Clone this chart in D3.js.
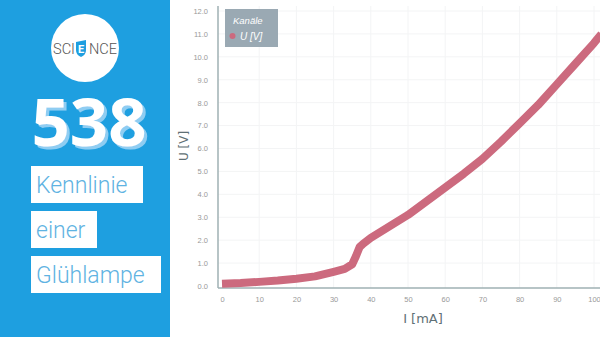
<!DOCTYPE html>
<html>
<head>
<meta charset="utf-8">
<script src="https://cdn.jsdelivr.net/npm/d3@7"></script>
<style>
  body { margin: 0; background: #fff; }
  svg { display: block; }
</style>
</head>
<body>
<div id="chart"></div>
<script>
// data
const CURRENT = [0, 5, 10, 15, 20, 25, 30, 33, 35, 36, 37, 38, 40, 45, 50, 55, 60, 65, 70, 75, 80, 85, 90, 95, 100, 102];
const VOLTAGE = [0.10, 0.13, 0.18, 0.24, 0.32, 0.42, 0.62, 0.75, 0.95, 1.3, 1.7, 1.85, 2.1, 2.6, 3.1, 3.7, 4.3, 4.9, 5.55, 6.3, 7.1, 7.9, 8.8, 9.7, 10.6, 11.0];
const X_TICKS = [0, 10, 20, 30, 40, 50, 60, 70, 80, 90, 100];
const Y_TICKS = [0, 1, 2, 3, 4, 5, 6, 7, 8, 9, 10, 11, 12];
const TITLE_LINES = ["Kennlinie", "einer", "Glühlampe"];

const WIDTH = 600, HEIGHT = 337;
const CURVE_COLOR = "#cc6a7e";
const BLUE = "#1e9fe0";

const svg = d3.select("#chart").append("svg")
  .attr("width", WIDTH)
  .attr("height", HEIGHT);

const defs = svg.append("defs");
defs.append("filter").attr("id", "numShadow")
  .attr("x", "-10%").attr("y", "-10%").attr("width", "130%").attr("height", "130%")
  .append("feDropShadow")
  .attr("dx", 3).attr("dy", 3).attr("stdDeviation", 0.6)
  .attr("flood-color", "#8fcdf2").attr("flood-opacity", 1);

// ---- left banner ----
svg.append("rect").attr("x", 0).attr("y", 0)
  .attr("width", 170).attr("height", HEIGHT)
  .attr("fill", BLUE);

// logo
svg.append("circle").attr("cx", 85).attr("cy", 48).attr("r", 34).attr("fill", "#fff");
const logo = svg.append("g").attr("font-family", "Roboto").attr("font-weight", 300)
  .attr("font-size", 15).attr("fill", "#555");
logo.append("text").attr("x", 53).attr("y", 54).text("SCI")
  .attr("textLength", 22).attr("lengthAdjust", "spacingAndGlyphs");
logo.append("path")
  .attr("d", "M76,42 L86,40 L86,50 Q86,55 81,57 Q76,55 76,50 Z")
  .attr("fill", BLUE);
logo.append("text").attr("x", 81).attr("y", 53).attr("text-anchor", "middle")
  .attr("font-size", 11).attr("font-weight", 700).attr("fill", "#fff").text("E");
logo.append("text").attr("x", 89).attr("y", 54).text("NCE")
  .attr("textLength", 28).attr("lengthAdjust", "spacingAndGlyphs");

// big number with shadow
svg.append("text").attr("x", 89).attr("y", 146).attr("text-anchor", "middle")
  .attr("font-family", "Open Sans").attr("font-weight", 700).attr("font-size", 67)
  .attr("fill", "#fff").attr("filter", "url(#numShadow)").text("538");

// title boxes
const boxWidths = [112, 66, 130];
TITLE_LINES.forEach(function(t, i) {
  const y0 = 166 + i * 45;
  svg.append("rect").attr("x", 31).attr("y", y0)
    .attr("width", boxWidths[i]).attr("height", 37).attr("fill", "#fff");
  svg.append("text").attr("x", 36).attr("y", y0 + 27)
    .attr("font-family", "Roboto").attr("font-weight", 300).attr("font-size", 23)
    .attr("fill", "#5fb3e2").text(t);
});

// ---- chart ----
const x = d3.scaleLinear().domain([0, 100]).range([222, 594]);
const y = d3.scaleLinear().domain([0, 12]).range([286, 11]);

const plot = svg.append("g");

// faint grid
plot.selectAll(".vgrid").data(X_TICKS.slice(1)).join("line")
  .attr("x1", d => x(d)).attr("x2", d => x(d))
  .attr("y1", 6).attr("y2", 288)
  .attr("stroke", "#f3f4f5").attr("stroke-width", 1);
plot.selectAll(".hgrid").data(Y_TICKS.slice(1)).join("line")
  .attr("x1", 218).attr("x2", WIDTH)
  .attr("y1", d => y(d)).attr("y2", d => y(d))
  .attr("stroke", "#f3f4f5").attr("stroke-width", 1);

// axes
const xAxis = d3.axisBottom(x).tickValues(X_TICKS).tickSize(0).tickPadding(9);
const gx = svg.append("g").attr("transform", "translate(0,288)").call(xAxis);
gx.select(".domain").remove();
gx.selectAll("text").attr("font-family", "Liberation Sans").attr("font-size", 7.5).attr("fill", "#999");

const yAxis = d3.axisLeft(y).tickValues(Y_TICKS).tickSize(0).tickPadding(10)
  .tickFormat(d3.format(".1f"));
const gy = svg.append("g").attr("transform", "translate(218,0)").call(yAxis);
gy.select(".domain").remove();
gy.selectAll("text").attr("font-family", "Liberation Sans").attr("font-size", 7.5).attr("fill", "#999");

svg.append("line").attr("x1", 218).attr("x2", WIDTH).attr("y1", 288).attr("y2", 288)
  .attr("stroke", "#9fb1b3").attr("stroke-width", 1.5);
svg.append("line").attr("x1", 218).attr("x2", 218).attr("y1", 6).attr("y2", 288)
  .attr("stroke", "#9fb1b3").attr("stroke-width", 1.5);

// curve
const pts = CURRENT.map((c, i) => [c, VOLTAGE[i]]);
svg.append("path")
  .datum(pts)
  .attr("fill", "none")
  .attr("stroke", CURVE_COLOR)
  .attr("stroke-width", 8)
  .attr("stroke-linejoin", "round")
  .attr("d", d3.line().x(d => x(d[0])).y(d => y(d[1])));

// axis labels
svg.append("text").attr("x", 423).attr("y", 323).attr("text-anchor", "middle")
  .attr("font-family", "DejaVu Sans").attr("font-size", 13).attr("fill", "#5f7075")
  .text("I [mA]");
svg.append("text").attr("transform", "translate(188,146) rotate(-90)")
  .attr("text-anchor", "middle")
  .attr("font-family", "DejaVu Sans").attr("font-size", 12).attr("fill", "#5f7075")
  .text("U [V]");

// legend
const leg = svg.append("g");
leg.append("rect").attr("x", 225).attr("y", 9).attr("width", 53).attr("height", 38)
  .attr("fill", "#9aa9b3");
leg.append("text").attr("x", 233).attr("y", 24)
  .attr("font-family", "Liberation Sans").attr("font-style", "italic").attr("font-size", 9.5)
  .attr("fill", "#fff").text("Kanäle");
leg.append("circle").attr("cx", 232.5).attr("cy", 36).attr("r", 3).attr("fill", CURVE_COLOR);
leg.append("text").attr("x", 240).attr("y", 39.5)
  .attr("font-family", "Liberation Sans").attr("font-style", "italic").attr("font-size", 10)
  .attr("fill", "#fff").text("U [V]");
</script>
</body>
</html>
